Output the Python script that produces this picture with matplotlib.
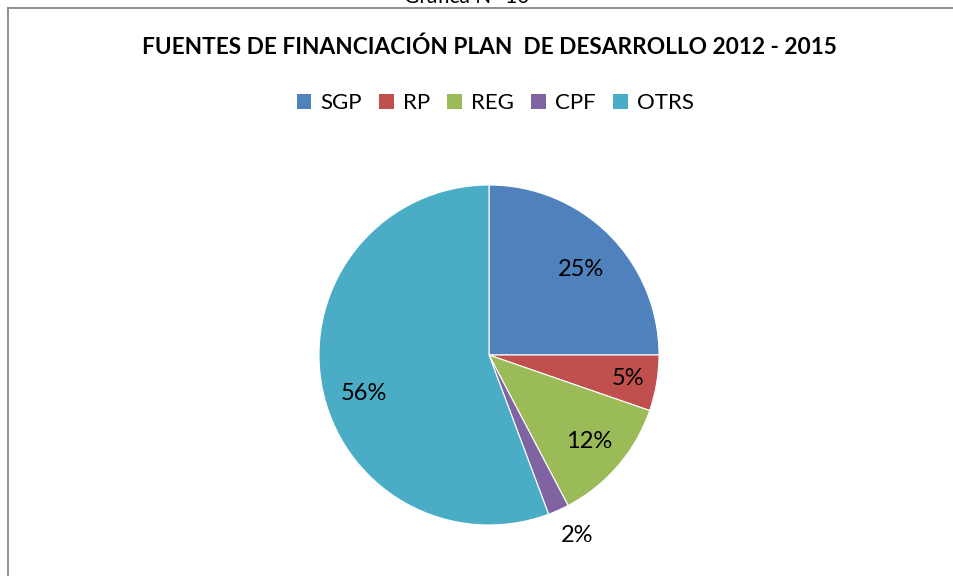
import matplotlib
matplotlib.use("Agg")
import matplotlib.pyplot as plt
from matplotlib.lines import Line2D
from matplotlib.patches import Rectangle
import numpy as np

categories = ["SGP", "RP", "REG", "CPF", "OTRS"]
values = [25.0, 5.3, 12.0, 2.0, 55.7]
labels_pct = ["25%", "5%", "12%", "2%", "56%"]
colors = ["#4F81BD", "#C0504D", "#9BBB59", "#8064A2", "#4BACC6"]
label_dist = [0.74, 0.83, 0.78, 1.18, 0.77]
label_dang = [-2.3, 0.0, 0.0, 1.9, 6.8]

plt.rcParams['font.family'] = ['Lato', 'DejaVu Sans']

W, H = 954, 576
fig = plt.figure(figsize=(W / 100, H / 100), dpi=100)
fig.patch.set_facecolor("white")

# pie axes: center (489,355), radius 170
cx, cy, r = 489, 355, 170
ax = fig.add_axes([(cx - r) / W, (H - cy - r) / H, 2 * r / W, 2 * r / H])
wedges, _ = ax.pie(values, colors=colors, startangle=90, counterclock=False,
                   radius=1.0, wedgeprops=dict(edgecolor="white", linewidth=0.8))
ax.set_xlim(-1, 1)
ax.set_ylim(-1, 1)
ax.set_aspect("equal")
ax.axis("off")

for w, lab, d, da in zip(wedges, labels_pct, label_dist, label_dang):
    ang = np.deg2rad((w.theta1 + w.theta2) / 2 + da)
    ax.text(d * np.cos(ang), d * np.sin(ang), lab, ha="center", va="center",
            fontsize=17, color="black", clip_on=False)

# border lines
fig.add_artist(Line2D([8.5 / W, 1.0], [1 - 7.5 / H, 1 - 7.5 / H], transform=fig.transFigure,
                      color="#888888", linewidth=1.3))
fig.add_artist(Line2D([8.5 / W, 8.5 / W], [0, 1 - 7.5 / H], transform=fig.transFigure,
                      color="#888888", linewidth=1.3))

# cut-off caption above the frame (as in the reference)
fig.text(467 / W, 1 + 3 / H, "Gráfica N° 10", ha="center", va="center",
         fontsize=15, color="black")

# title
fig.text(489 / W, 1 - 47 / H, "FUENTES DE FINANCIACIÓN PLAN  DE DESARROLLO 2012 - 2015",
         ha="center", va="center", fontsize=16.3, fontweight="bold", color="black")

# legend
handles = [Rectangle((0, 0), 1, 1, facecolor=c, edgecolor="none") for c in colors]
fig.legend(handles, categories, loc="center", bbox_to_anchor=(495 / W, 1 - 103 / H),
           ncol=5, frameon=False, fontsize=16, handlelength=0.65, handleheight=0.65,
           handletextpad=0.4, columnspacing=0.8)

fig.savefig("out.png", dpi=100, facecolor="white")
